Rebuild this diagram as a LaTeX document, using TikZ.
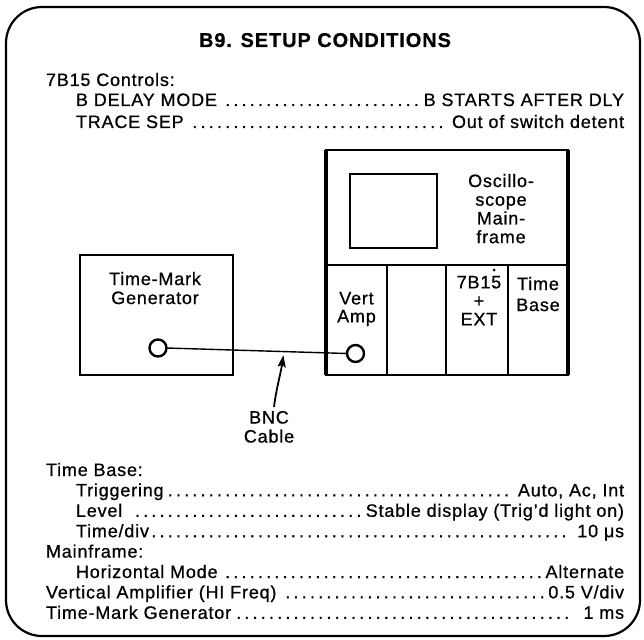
\documentclass[tikz,border=0pt]{standalone}
\usepackage{fontspec}
\setmainfont{Liberation Sans}[LetterSpace=4.5, FakeBold=0.7]
\usetikzlibrary{arrows.meta}
\newcommand\dotlead{\leaders\hbox to 8.2pt{\hss.\hss}\hfill}
\tikzset{
  txt/.style={inner sep=0pt, outer sep=0pt, font=\fontsize{18}{18.7}\selectfont},
  row/.style={txt, anchor=base west},
  lbl/.style={txt, align=center, anchor=north},
  unitbox/.style={draw, line width=2.5pt, inner sep=0pt, outer sep=0pt, anchor=north west},
  screenbox/.style={draw, line width=2pt, inner sep=0pt, outer sep=0pt, anchor=north west},
  part/.style={line width=1.8pt},
  jack/.style={circle, draw, line width=2.4pt, minimum size=17pt, inner sep=0pt, outer sep=0pt},
  cable/.style={line width=1.4pt},
  pointer/.style={line width=1.8pt, -{Stealth[length=12pt,width=8pt,inset=2pt]}},
  outerframe/.style={draw, line width=2.2pt, rounded corners=36pt}
}
\begin{document}
\begin{tikzpicture}[x=1pt,y=-1pt]
\useasboundingbox (0,0) rectangle (644,639);
% outer frame
\draw[outerframe] (6,7) rectangle (640,636);
% title
\node[txt, anchor=base, font=\fontsize{20}{20}\selectfont\bfseries] (title) at (325,47) {B9. SETUP CONDITIONS};
% top settings
\node[row] (c0) at (46,86) {7B15 Controls:};
\node[row] (c1) at (76,106) {\hbox to 548pt{B DELAY MODE \dotlead B STARTS AFTER DLY}};
\node[row] (c2) at (76,128) {\hbox to 548pt{TRACE SEP \dotlead\ Out of switch detent}};
% mainframe
\node[unitbox, minimum width=242pt, minimum height=225pt] (mf) at (326,150) {};
\node[screenbox, minimum width=87pt, minimum height=74pt] (crt) at (350,174) {};
\draw[part] (326,265) -- (568,265);
\draw[part] (387,265) -- (387,375);
\draw[part] (446,265) -- (446,375);
\draw[part] (508,265) -- (508,375);
\draw[line width=3.6pt] (mf.north west) -- (mf.south west);
\draw[line width=3.2pt] (mf.north east) -- (mf.south east);
\node[lbl] (mflbl) at (501,174) {Oscillo-\\scope\\Main-\\frame};
\node[lbl, font=\fontsize{18}{18}\selectfont] (va) at (356.5,292) {Vert\\Amp};
\node[lbl, font=\fontsize{18}{18.5}\selectfont] (tb15) at (479,276) {7B15\\+\\EXT};
\fill (494,270) circle (1.5pt);
\node[lbl, font=\fontsize{18}{21}\selectfont] (tbase) at (538,277) {Time\\Base};
\node[jack] (vajack) at (355.5,353.5) {};
% time-mark generator
\node[unitbox, minimum width=153pt, minimum height=120pt] (tmg) at (80,255) {};
\node[lbl, font=\fontsize{18}{19}\selectfont] (tmglbl) at (155,272) {Time-Mark\\Generator};
\node[jack] (tmgjack) at (158,348) {};
% cable
\draw[cable] (tmgjack.east) -- (vajack.west) coordinate[pos=0.65] (cabpt);
\node[lbl, font=\fontsize{18}{19}\selectfont] (bnc) at (269,411) {BNC\\Cable};
\draw[pointer, shorten >=3.5pt] ([xshift=5pt,yshift=4pt]bnc.north) .. controls (276,390) and (281,372) .. (cabpt);
% bottom settings
\node[row] (b0) at (46,476) {Time Base:};
\node[row] (b1) at (76,496.4) {\hbox to 548pt{Triggering\dotlead Auto, Ac, Int}};
\node[row] (b2) at (76,516.8) {\hbox to 548pt{Level \dotlead Stable display (Trig'd light on)}};
\node[row] (b3) at (76,537.2) {\hbox to 548pt{Time/div\dotlead\ 10 μs}};
\node[row] (b4) at (46,557.6) {Mainframe:};
\node[row] (b5) at (76,578) {\hbox to 548pt{Horizontal Mode\dotlead Alternate}};
\node[row] (b6) at (46,598.4) {\hbox to 578pt{Vertical Amplifier (HI Freq) \dotlead 0.5 V/div}};
\node[row] (b7) at (46,618.8) {\hbox to 578pt{Time-Mark Generator\dotlead\ 1 ms}};
\end{tikzpicture}
\end{document}
